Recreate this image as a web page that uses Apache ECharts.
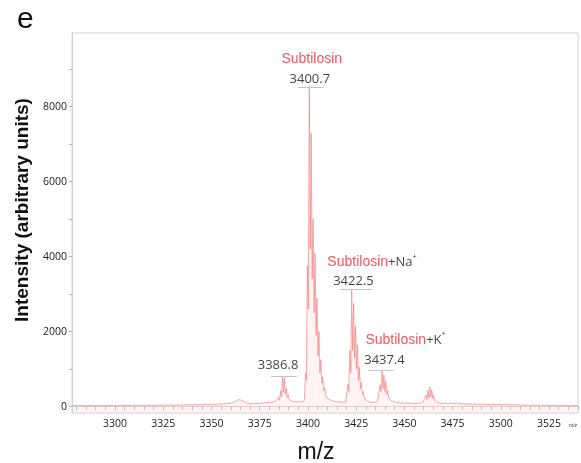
<!DOCTYPE html>
<html>
<head>
<meta charset="utf-8">
<script src="https://cdn.jsdelivr.net/npm/echarts@6/dist/echarts.min.js"></script>
<style>
html,body{margin:0;padding:0;background:#fff;}
#chart{width:581px;height:463px;}
</style>
</head>
<body>
<div id="chart"></div>
<script>
// ---- spectrum (m/z, intensity) ----
const mz = [
3278,3280,3282,3284,3286,3288,3290,3292,3294,3296,3298,3300,3302,3304,3306,3308,3310,3312,3314,3316,3318,3320,3322,3324,3326,3328,3330,3332,3334,3336,3338,3340,3342,3344,3346,3348,3350,3352,3354,3356,3358,3360,3361,3362,3363,3364,3364.5,3365,3365.5,3366,3366.5,3367,3368,3369,3370,3371,3372,3373,3374,3375,3376,3377,3378,3379,3380,3381,3382,3383,3384,
3384.3,3384.8,3385.3,3385.8,3386.3,3386.8,3387.3,3387.8,3388.3,3388.8,3389.3,3389.8,3390.3,3390.8,3391.3,3392,3393,3394,3395,3396,3397,3397.7,3398.2,
3398.7,3399.2,3399.7,3400.2,3400.7,3401.2,3401.7,3402.2,3402.7,3403.2,3403.7,3404.2,3404.7,3405.2,3405.7,3406.2,3406.7,3407.2,3407.7,3408.2,3408.7,3409.2,3409.7,3410.2,3410.7,3411.5,3412.5,3413.5,3414.5,3415.5,3416.5,3417.5,3418.5,3419.5,3420.2,
3420.7,3421.2,3421.7,3422.2,3422.7,3423.2,3423.7,3424.2,3424.7,3425.2,3425.7,3426.2,3426.7,3427.2,3427.7,3428.2,3428.7,3429.2,3429.7,3430.3,3431,3432,3433,3434,3435,3435.9,
3436.4,3436.9,3437.4,3437.9,3438.4,3438.9,3439.4,3439.9,3440.4,3440.9,3441.4,3441.9,3442.4,3442.9,3443.4,3444,3445,3446,3447,3448,3449,3450,3451,3452,3453,3454,3455,3456,3457,3458,3459,3459.7,
3460.2,3460.7,3461.2,3461.7,3462.2,3462.7,3463.2,3463.7,3464.2,3464.7,3465.2,3465.7,3466.2,3466.8,3467.5,3469,3471,3473,3475,3477,3478,3480,3482,3484,3486,3488,3490,3492,3494,3496,3498,3500,3502,3503,3505,3507,3509,3511,3513,3515,3517,3519,3521,3523,3525,3527,3529,3531,3533,3535,3537,3540
];
const intensity = [
28,30,26,31,29,33,30,27,32,30,34,31,29,35,32,30,36,33,38,34,37,40,36,41,38,43,40,45,42,48,45,50,47,55,52,60,62,58,70,75,82,95,105,120,150,190,150,225,170,210,150,130,95,80,72,78,70,82,76,85,90,98,92,105,110,120,115,130,150,
160,250,170,420,260,800,380,760,330,500,240,320,180,200,150,140,125,130,120,128,118,130,200,
900,700,3750,2600,8550,4200,7300,3400,5000,2500,4100,1900,2900,1350,2000,900,1250,620,800,420,500,300,330,220,240,180,150,140,130,125,115,120,110,115,160,
600,400,1500,900,3100,1500,2750,1300,2150,1000,1650,700,1050,480,650,330,400,230,250,170,140,120,115,105,110,140,
250,230,580,400,980,480,850,400,670,320,420,230,280,170,180,140,120,110,105,100,98,95,92,95,88,90,85,88,90,95,105,130,
150,120,310,190,445,240,530,260,445,220,310,160,180,120,100,90,85,80,82,95,85,75,70,72,66,65,60,62,58,55,57,52,60,50,48,45,47,42,44,40,38,40,36,35,37,33,32,34,30,29,31,28
];

// ---- axes ----
const xLabelValues = [3300,3325,3350,3375,3400,3425,3450,3475,3500,3525];
const xTickValues = [3280,3285,3290,3295,3300,3305,3310,3315,3320,3325,3330,3335,3340,3345,3350,3355,3360,3365,3370,3375,3380,3385,3390,3395,3400,3405,3410,3415,3420,3425,3430,3435,3440,3445,3450,3455,3460,3465,3470,3475,3480,3485,3490,3495,3500,3505,3510,3515,3520,3525,3530,3535,3540];
const yLabelValues = [0,2000,4000,6000,8000];
const yTickValues = [0,1000,2000,3000,4000,5000,6000,7000,8000,9000];

// ---- annotations ----
const annoLabels = ['{r|Subtilosin}','{k|3400.7}','{r|Subtilosin}{k|+Na}{s|+}','{k|3422.5}','{r|Subtilosin}{k|+K}{s|+}','{k|3437.4}','{k|3386.8}'];
const annoX = [3402.0, 3401.0, 3433.2, 3423.6, 3450.6, 3439.7, 3384.5];
const annoY = [9272, 8739, 3840, 3333, 1779, 1245, 1112];
const segStart = [3394.7, 3416.6, 3431.2, 3380.9];
const segEnd = [3408.0, 3433.2, 3444.3, 3394.2];
const segY = [8507, 3131, 979, 819];

const chart = echarts.init(document.getElementById('chart'), null, {renderer:'canvas'});
const sans = '"Liberation Sans", Arial, sans-serif';
const num = '"Open Sans", sans-serif';

chart.setOption({
  animation: false,
  backgroundColor: '#fff',
  grid: {left: 72, right: 3, top: 33, bottom: 50, show: true, borderColor: '#d4d4d4', borderWidth: 1, outerBoundsMode: 'none', containLabel: false},
  xAxis: {
    type: 'value', min: 3277.7, max: 3540,
    name: 'm/z', nameLocation: 'middle', nameGap: 28,
    nameTextStyle: {fontFamily: sans, fontSize: 23, color: '#111', padding:[0,18,0,0]},
    axisLine: {show: true, lineStyle: {color: '#cfcfcf'}},
    axisTick: {show: true, customValues: xTickValues, length: 3, lineStyle: {color: '#b0b0b0'}},
    axisLabel: {customValues: xLabelValues, formatter: v => String(v), fontFamily: num, fontSize: 10.5, color: '#222', margin: 6},
    splitLine: {show: false}
  },
  yAxis: {
    type: 'value', min: -170, max: 9960,
    name: 'Intensity (arbitrary units)', nameLocation: 'middle', nameGap: 40,
    nameTextStyle: {fontFamily: sans, fontSize: 19, fontWeight: 'bold', color: '#111', padding:[0,0,0,26]},
    axisLine: {show: true, lineStyle: {color: '#cfcfcf'}},
    axisTick: {show: true, customValues: yTickValues, length: 3, lineStyle: {color: '#b0b0b0'}},
    axisLabel: {customValues: yLabelValues, formatter: v => String(v), fontFamily: num, fontSize: 10.5, color: '#222', margin: 5},
    splitLine: {show: false}
  },
  series: [
    {
      type: 'line',
      data: mz.map((m, i) => [m, intensity[i]]),
      showSymbol: false,
      symbol: 'none',
      lineStyle: {color: '#f57878', width: 0.7, opacity: 0.9},
      areaStyle: {color: 'rgba(255,200,200,0.3)', origin: 'start'},
      z: 2
    },
    {
      type: 'scatter',
      symbolSize: 0,
      silent: true,
      data: annoX.map((x, i) => ({value: [x, annoY[i]], label: {formatter: annoLabels[i]}})),
      label: {
        show: true, position: 'inside',
        rich: {
          r: {fontFamily: sans, fontSize: 14, color: '#ee2a36', lineHeight: 18},
          k: {fontFamily: num, fontSize: 13, color: '#111', lineHeight: 18},
          s: {fontFamily: sans, fontSize: 7, color: '#111', lineHeight: 18, verticalAlign: 'top', padding: [0,0,6,0]}
        }
      },
      markLine: {
        silent: true, symbol: 'none',
        label: {show: false},
        lineStyle: {color: '#c4c4c4', width: 1, type: 'solid'},
        data: segStart.map((s, i) => [{coord: [s, segY[i]]}, {coord: [segEnd[i], segY[i]]}])
      },
      z: 5
    }
  ],
  graphic: [
    {type: 'text', left: 17, top: 5, style: {text: 'e', font: '30px "Liberation Sans", Arial, sans-serif', fill: '#111'}},
    {type: 'text', left: 569, top: 423, style: {text: 'm/z', font: '5px "Liberation Sans", Arial, sans-serif', fill: '#333'}}
  ]
});
</script>
</body>
</html>
